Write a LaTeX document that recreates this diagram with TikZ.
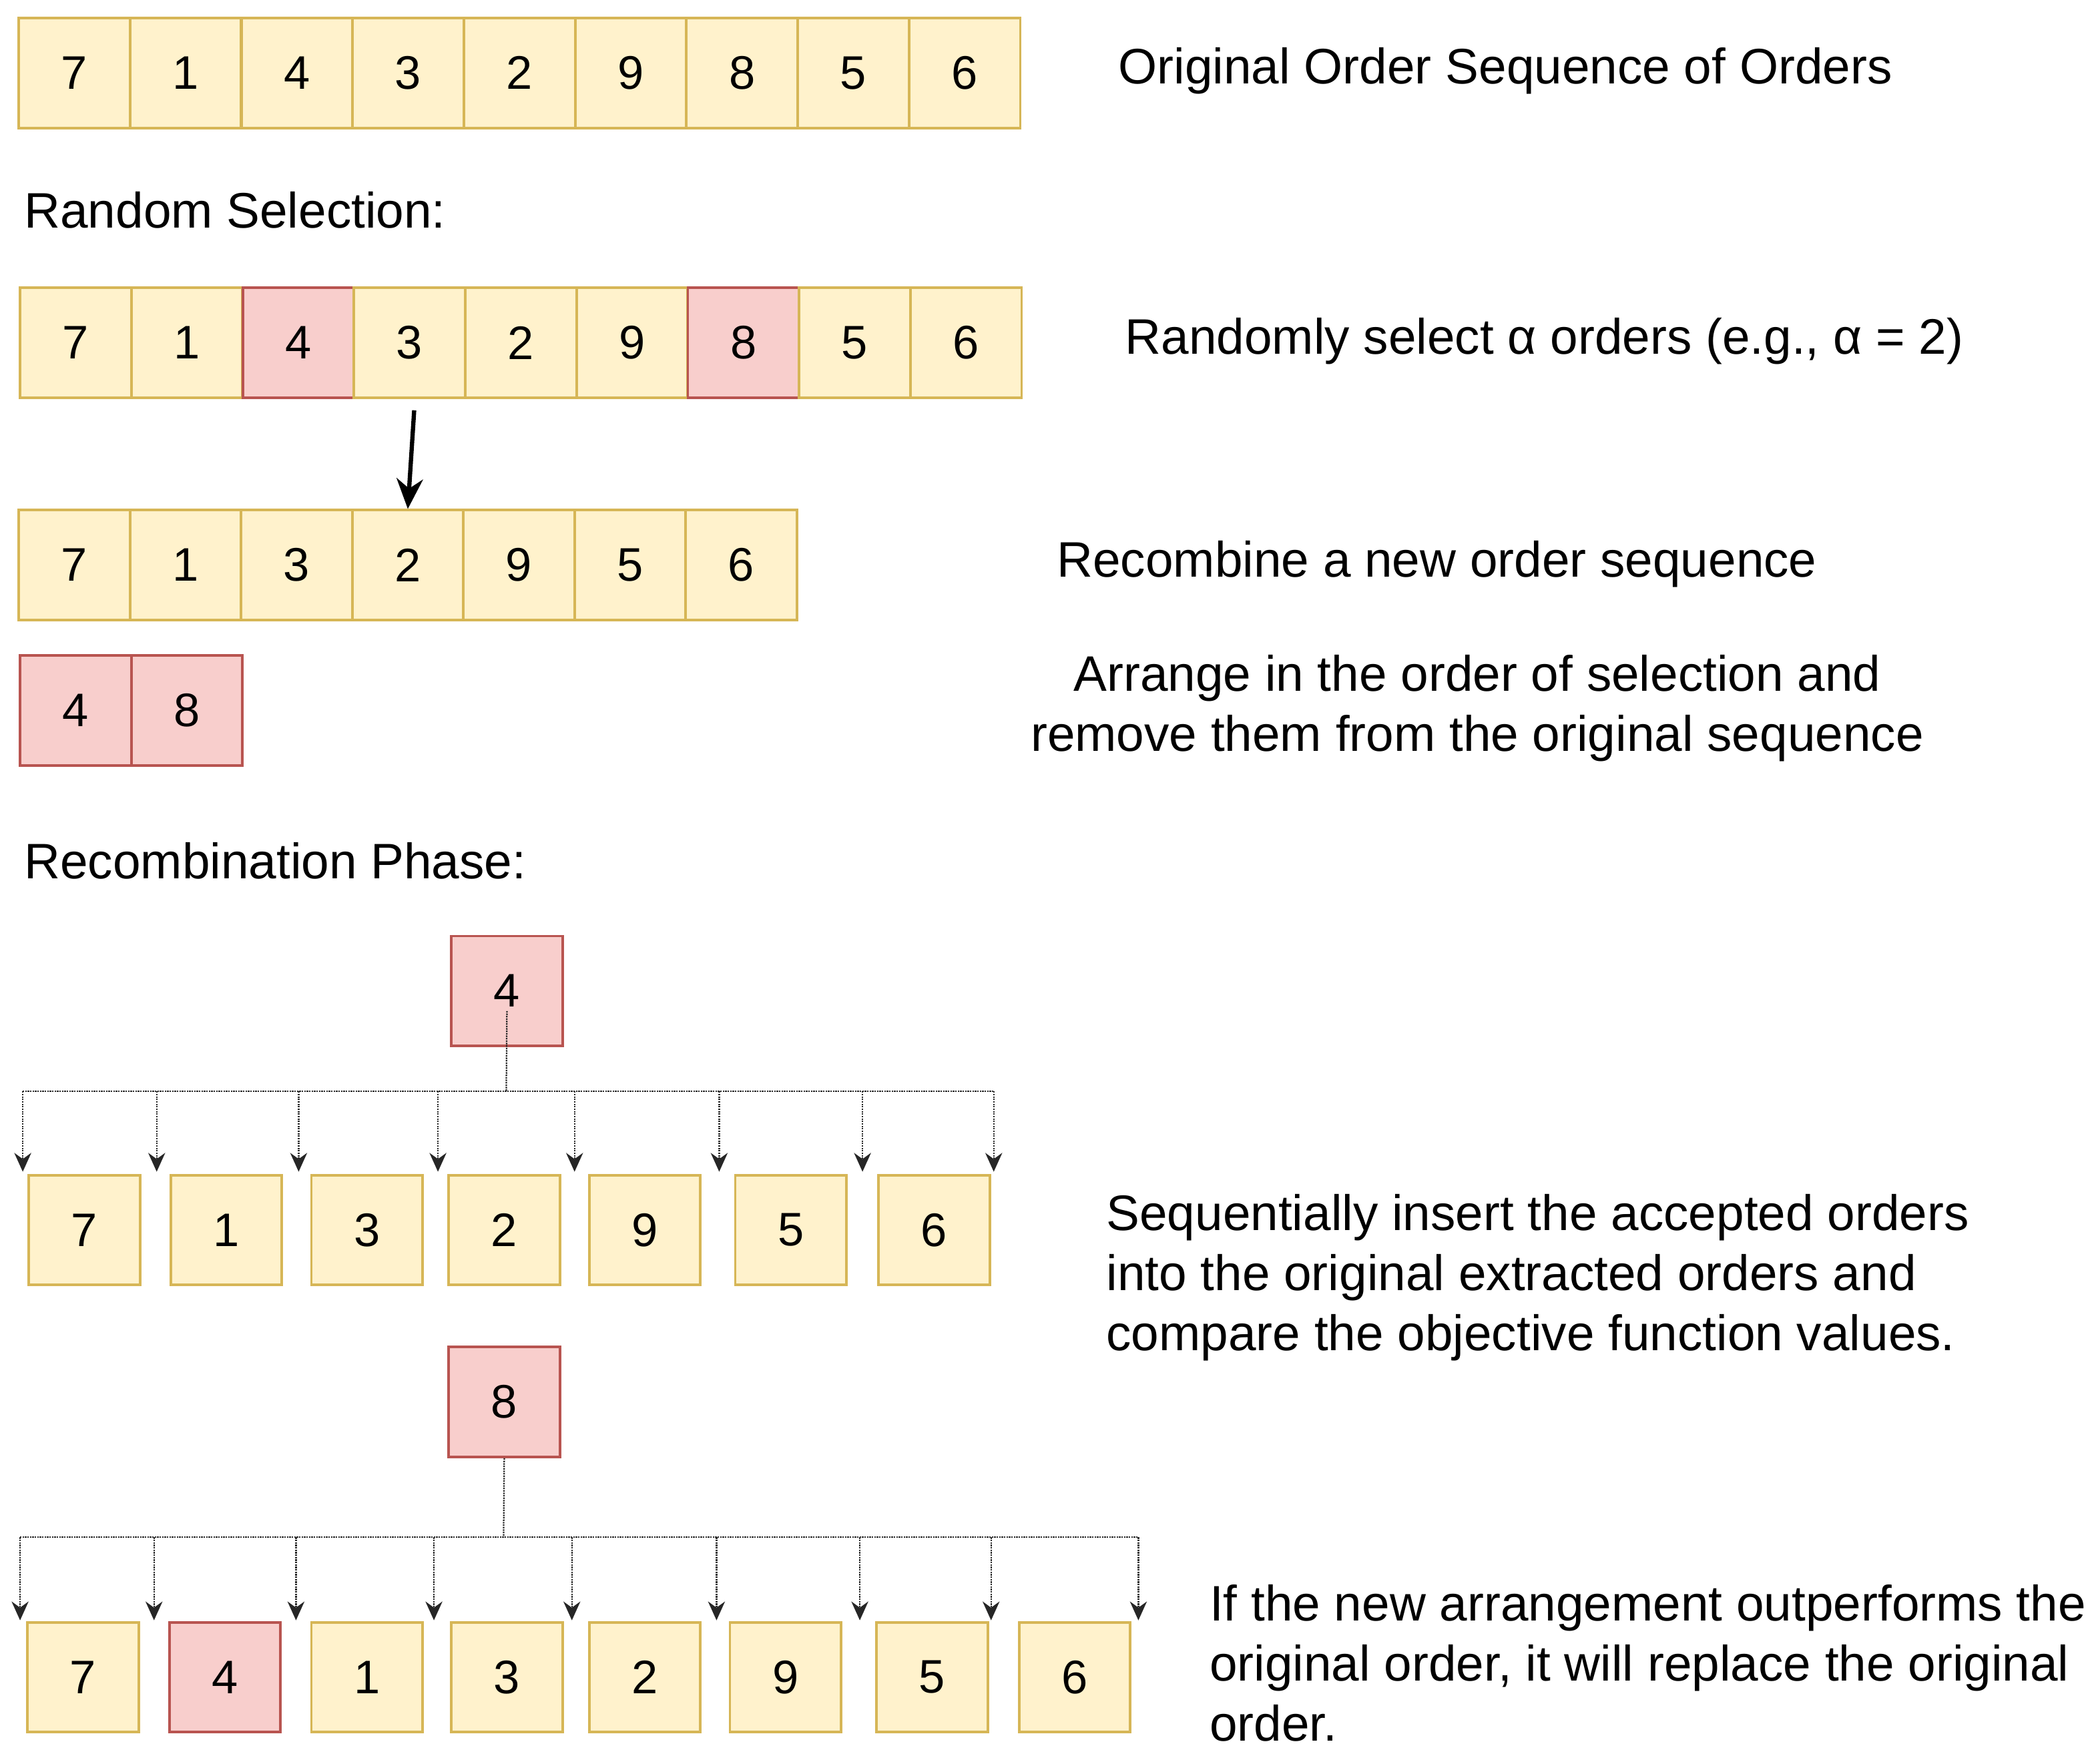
\documentclass[tikz,border=0pt]{standalone}
\usepackage{fontspec}
\setmainfont{Liberation Sans}
\usetikzlibrary{arrows.meta}
\begin{document}
\begin{tikzpicture}[x=0.05cm,y=-0.05cm,
  every node/.style={font=\fontsize{53}{64}\selectfont},
  yb/.style={draw={rgb,255:red,214;green,182;blue,86}, fill={rgb,255:red,255;green,242;blue,204}, line width=2.8pt, minimum width=4.15cm, minimum height=4.1cm, inner sep=0pt, font=\fontsize{50}{60}\selectfont},
  rb/.style={yb, draw={rgb,255:red,184;green,84;blue,80}, fill={rgb,255:red,248;green,206;blue,204}},
  lbl/.style={anchor=west, inner sep=0pt},
  dots/.style={densely dotted, line width=1.6pt, black!85},
  drop/.style={dots, -{Stealth[length=20pt,width=18pt]}}]
\useasboundingbox (0,0) rectangle (1568,1317);
% row 1
\foreach \v [count=\i] in {7,1,4,3,2,9,8,5,6}
  \node[yb] (a\i) at ({14+41.5+83.1*(\i-1)},54.5) {\v};
% row 2
\foreach \v/\s [count=\i] in {7/yb,1/yb,4/rb,3/yb,2/yb,9/yb,8/rb,5/yb,6/yb}
  \node[\s] (b\i) at ({15+41.5+83.1*(\i-1)},256) {\v};
% row 3
\foreach \v [count=\i] in {7,1,3,2,9,5,6}
  \node[yb] (c\i) at ({14+41.5+83*(\i-1)},422) {\v};
% row 4
\node[rb] (d1) at (56.5,530.5) {4};
\node[rb] (d2) at (139.5,530.5) {8};
\draw[line width=4.5pt,-{Stealth[length=32pt,width=28pt]},shorten <=12pt] (b4.south) ++(4,0) -- (c4.north);
% labels
\node[lbl] (t0) at (18,157) {Random Selection:};
\node[lbl] (t1) at (18,643) {Recombination Phase:};
\node[lbl] (t2) at (835,53) {Original Order Sequence of Orders};
\node[lbl] (t3) at (840,255) {Randomly select α orders (e.g., α = 2)};
\node[lbl] (t4) at (789,421) {Recombine a new order sequence};
\node[align=center, inner sep=0pt] (t5) at (1103,529) {Arrange in the order of selection and\\remove them from the original sequence};
\node[lbl, align=left] (t6) at (826,954) {Sequentially insert the accepted orders\\into the original extracted orders and\\compare the objective function values.};
\node[lbl, align=left] (t7) at (903,1242) {If the new arrangement outperforms the\\original order, it will replace the original\\order.};
% recombination 1
\node[rb] (p4) at (378.5,740) {4};
\foreach \v/\xx [count=\i] in {7/63,1/169,3/274,2/376.5,9/481.5,5/590.5,6/697.5}
  \node[yb] (e\i) at (\xx,918.5) {\v};
\coordinate (h1) at (378,815);
\draw[dots] (p4.center) ++(0,15) -- (h1);
\draw[dots] (17,815) -- (742,815);
\foreach \xx [count=\i] in {17,117,223,327,429,537,644,742}
  { \coordinate (u\i) at (\xx,815); \coordinate (w\i) at (\xx,875);
    \draw[drop] (u\i) -- (w\i); }
% recombination 2
\node[rb] (p8) at (376.5,1047) {8};
\foreach \v/\s/\xx [count=\i] in {7/yb/62,4/rb/168,1/yb/274,3/yb/378.5,2/yb/481.5,9/yb/586.5,5/yb/696,6/yb/802.5}
  \node[\s] (f\i) at (\xx,1252.5) {\v};
\coordinate (h2) at (376,1148);
\draw[dots] (p8.south) -- (h2);
\draw[dots] (15,1148) -- (850,1148);
\foreach \xx [count=\i] in {15,115,221,324,427,535,642,740,850}
  { \coordinate (s\i) at (\xx,1148); \coordinate (z\i) at (\xx,1210);
    \draw[drop] (s\i) -- (z\i); }
\end{tikzpicture}
\end{document}
